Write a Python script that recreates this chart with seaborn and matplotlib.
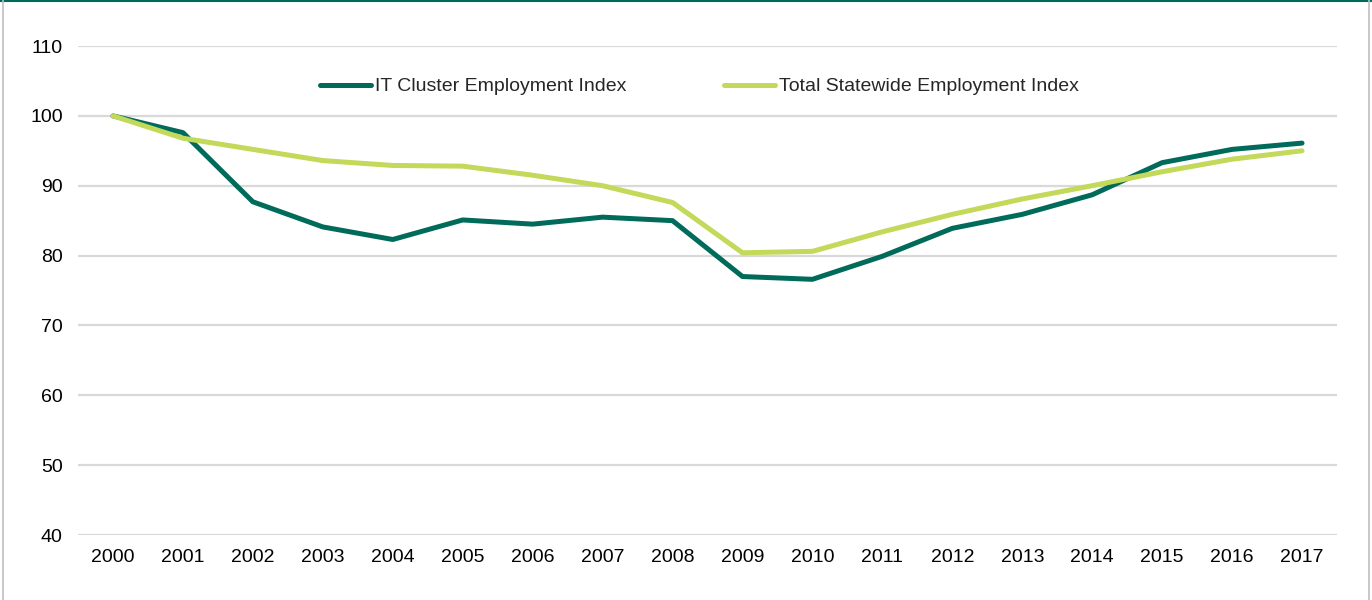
import matplotlib
matplotlib.use("Agg")
import matplotlib.pyplot as plt
from matplotlib.lines import Line2D
import pandas as pd
import seaborn as sns

years = [str(y) for y in range(2000, 2018)]
it_cluster = [100.0, 97.6, 87.7, 84.1, 82.3, 85.1, 84.5, 85.5, 85.0,
              77.0, 76.6, 79.9, 83.9, 85.9, 88.7, 93.3, 95.2, 96.1]
statewide = [100.0, 96.8, 95.2, 93.6, 92.9, 92.8, 91.5, 90.0, 87.6,
             80.4, 80.6, 83.4, 85.9, 88.1, 90.0, 92.0, 93.8, 95.0]
series_names = ["IT Cluster Employment Index", "Total Statewide Employment Index"]
series_colors = ["#006B5A", "#C2D959"]
y_ticks = [40, 50, 60, 70, 80, 90, 100, 110]

df = pd.concat([
    pd.DataFrame({"year": years, "index": it_cluster, "series": series_names[0]}),
    pd.DataFrame({"year": years, "index": statewide, "series": series_names[1]}),
])

sns.set_theme(style="white")
plt.rcParams["font.family"] = ["Liberation Sans", "DejaVu Sans"]

fig = plt.figure(figsize=(13.72, 6.0), dpi=100)
ax = fig.add_axes([78 / 1372, 1 - 535 / 600, (1337 - 78) / 1372, (535 - 46) / 600])

sns.lineplot(data=df, x="year", y="index", hue="series", hue_order=series_names,
             palette=series_colors, linewidth=3.6, sort=False, ax=ax,
             solid_capstyle="round", solid_joinstyle="round")

ax.set_xlim(-0.5, len(years) - 0.5)
ax.set_ylim(40, 110)
ax.set_yticks(y_ticks)
ax.set_xlabel("")
ax.set_ylabel("")
ax.grid(axis="y", color="#D9D9D9", linewidth=1.6)
ax.grid(axis="x", visible=False)
ax.set_axisbelow(True)
for s in ax.spines.values():
    s.set_visible(False)
ax.tick_params(axis="x", labelsize=14, colors="#000000", pad=10, length=0)
ax.tick_params(axis="y", labelsize=14, colors="#000000", pad=11, length=0)

handles = [Line2D([0], [0], color=c, linewidth=3.6, solid_capstyle="round")
           for c in series_colors]
ax.legend(handles, series_names, loc="center", bbox_to_anchor=(0.4937, 0.917),
          ncol=2, frameon=False, fontsize=14, handlelength=2.6,
          handletextpad=0.2, columnspacing=5.05)

# frame around the chart area
fig.add_artist(Line2D([0, 1], [0.999, 0.999], transform=fig.transFigure,
                      color="#006B5A", linewidth=1.5))
fig.add_artist(Line2D([3 / 1372, 3 / 1372], [0, 1], transform=fig.transFigure,
                      color="#BFBFBF", linewidth=1.2))
fig.add_artist(Line2D([1369 / 1372, 1369 / 1372], [0, 1], transform=fig.transFigure,
                      color="#BFBFBF", linewidth=1.2))

fig.savefig("out.png", dpi=100, facecolor="white")
